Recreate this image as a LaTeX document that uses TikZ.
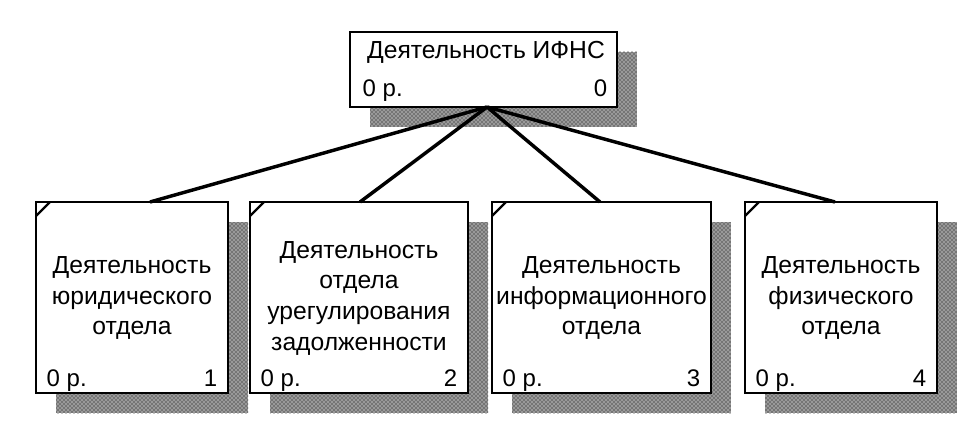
\documentclass[tikz,border=0pt]{standalone}
\usepackage{fontspec}
\setmainfont{Liberation Sans}
\usetikzlibrary{patterns}
\begin{document}
\begin{tikzpicture}[x=0.75pt,y=-0.75pt,
  shadowbox/.style={pattern=crosshatch dots, pattern color=black, draw=none},
  shadowbase/.style={fill=black!40},
  abox/.style={draw=black, line width=2.2pt, fill=white},
  lbl/.style={font=\fontsize{18.5}{23}\selectfont, align=center},
  foot/.style={font=\fontsize{18}{22}\selectfont},
  conn/.style={line width=2.6pt}]
\useasboundingbox (0,0) rectangle (966,424);
% top box
\fill[shadowbase] (370,52) rectangle (637,127);
\fill[shadowbox] (370,52) rectangle (637,127);
\draw[abox] (350,32) rectangle (617,107);
\node[lbl] (t) at (486,52) {Деятельность ИФНС};
\node[foot,anchor=base west] (t0) at (358,97) {0 р.};
\node[foot,anchor=base east] (tn) at (612,97) {0};
\coordinate (hub) at (487,107);
% bottom boxes
\foreach \xa/\xb/\n/\t/\cx in {36/228/1/{Деятельность\\юридического\\отдела}/150,
  250/468/2/{Деятельность\\отдела\\урегулирования\\задолженности}/360,
  492/711/3/{Деятельность\\информационного\\отдела}/600,
  745/937/4/{Деятельность\\физического\\отдела}/835}{
  \fill[shadowbase] (\xa+20,222) rectangle (\xb+20,413);
  \fill[shadowbox] (\xa+20,222) rectangle (\xb+20,413);
  \draw[abox] (\xa,202) rectangle (\xb,393);
  \draw[line width=1.8pt] (\xa,216) -- (\xa+14,202);
  \node[lbl] (b\n) at ({(\xa+\xb)/2},298) {\t};
  \node[foot,anchor=base west] (f\n) at (\xa+6,386) {0 р.};
  \node[foot,anchor=base east] (n\n) at (\xb-6,386) {\n};
  \coordinate (c\n) at (\cx,202);
  \draw[conn] (hub) -- (c\n);
}
\end{tikzpicture}
\end{document}
